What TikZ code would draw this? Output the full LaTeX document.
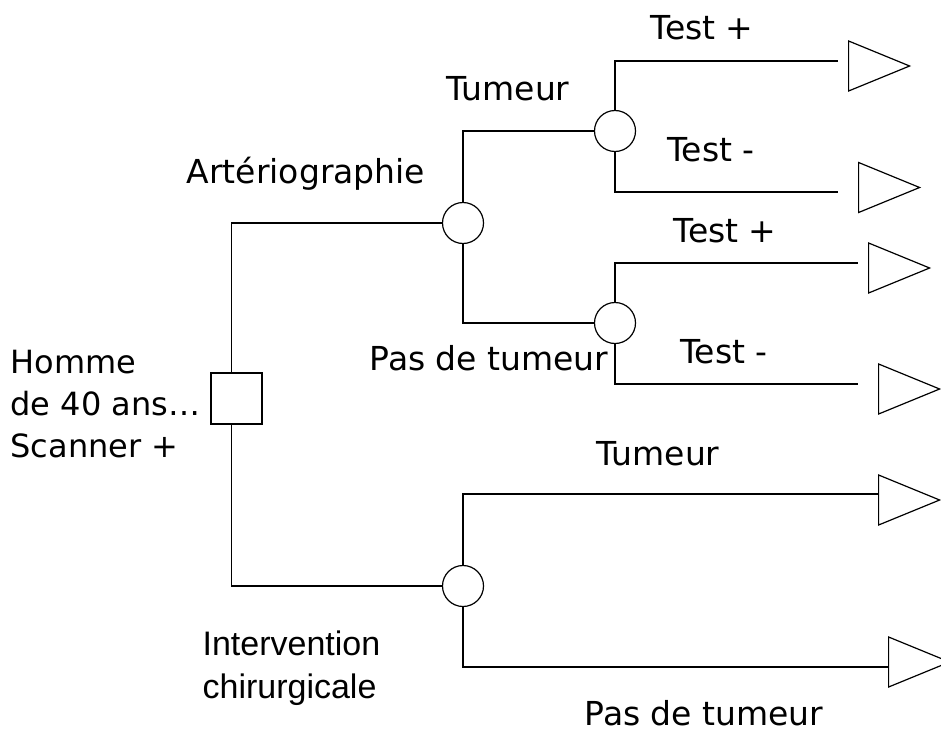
\documentclass[tikz,border=0pt]{standalone}
\usepackage{fontspec}
\setmainfont{DejaVu Sans}
\newfontfamily\arialfont{Liberation Sans}
\usetikzlibrary{shapes.geometric}

\tikzset{
  decision/.style={draw, rectangle, minimum size=51pt, inner sep=0pt},
  chance/.style={draw, circle, minimum size=41pt, inner sep=0pt},
  outcome/.style={draw, isosceles triangle, isosceles triangle stretches,
    minimum width=50pt, minimum height=61pt, inner sep=0pt, anchor=west},
  lbl/.style={font=\fontsize{33}{42}\selectfont, inner sep=0pt, anchor=base},
  block/.style={font=\fontsize{32}{42}\selectfont, inner sep=0pt, align=left, anchor=west}
}

\begin{document}
\begin{tikzpicture}[x=1pt, y=-1pt, line width=1.2pt]
    \useasboundingbox (0,0) rectangle (941,733);

    % Decision and chance nodes
    \node[decision] (sq) at (236.5,398.5) {};
    \node[chance] (c1) at (463,223) {};
    \node[chance] (c2) at (615,131) {};
    \node[chance] (c3) at (615,323) {};
    \node[chance] (c4) at (463,586) {};

    % Terminal nodes
    \node[outcome] (t1) at (848,66) {};
    \node[outcome] (t2) at (858,187.5) {};
    \node[outcome] (t3) at (868,268) {};
    \node[outcome] (t4) at (878,389) {};
    \node[outcome] (t5) at (878,500) {};
    \node[outcome] (t6) at (888,662) {};

    % Branch ends
    \coordinate (e1) at (838,61);
    \coordinate (e2) at (838,192);
    \coordinate (e3) at (858,263);
    \coordinate (e4) at (858,384);
    \coordinate (e5) at (t5.west |- 0,494);
    \coordinate (e6) at (t6.west |- 0,667);

    % Branches
    \draw ([xshift=-5pt]sq.north) |- (c1.west);
    \draw ([xshift=-5pt]sq.south) |- (c4.west);
    \draw (c1.north) |- (c2.west);
    \draw (c1.south) |- (c3.west);
    \draw (c2.north) |- (e1);
    \draw (c2.south) |- (e2);
    \draw (c3.north) |- (e3);
    \draw (c3.south) |- (e4);
    \draw (c4.north) |- (e5);
    \draw (c4.south) |- (e6);

    % Labels
    \node[block] (root) at (10,404) {Homme\\de 40 ans…\\Scanner +};
    \node[lbl] (art) at (306,183) {Artériographie};
    \node[lbl] (tum1) at (508,100) {Tumeur};
    \node[lbl] (pas1) at (489,370) {Pas de tumeur};
    \node[lbl] (tp1) at (702,40) {Test +};
    \node[lbl] (tm1) at (711,161) {Test -};
    \node[lbl] (tp2) at (725,242) {Test +};
    \node[lbl] (tm2) at (724,363) {Test -};
    \node[lbl] (tum2) at (658,465) {Tumeur};
    \node[lbl] (pas2) at (704,725) {Pas de tumeur};
    \node[block, font=\arialfont\fontsize{34}{43}\selectfont] (chir) at (202,668) {Intervention\\chirurgicale};
\end{tikzpicture}
\end{document}
